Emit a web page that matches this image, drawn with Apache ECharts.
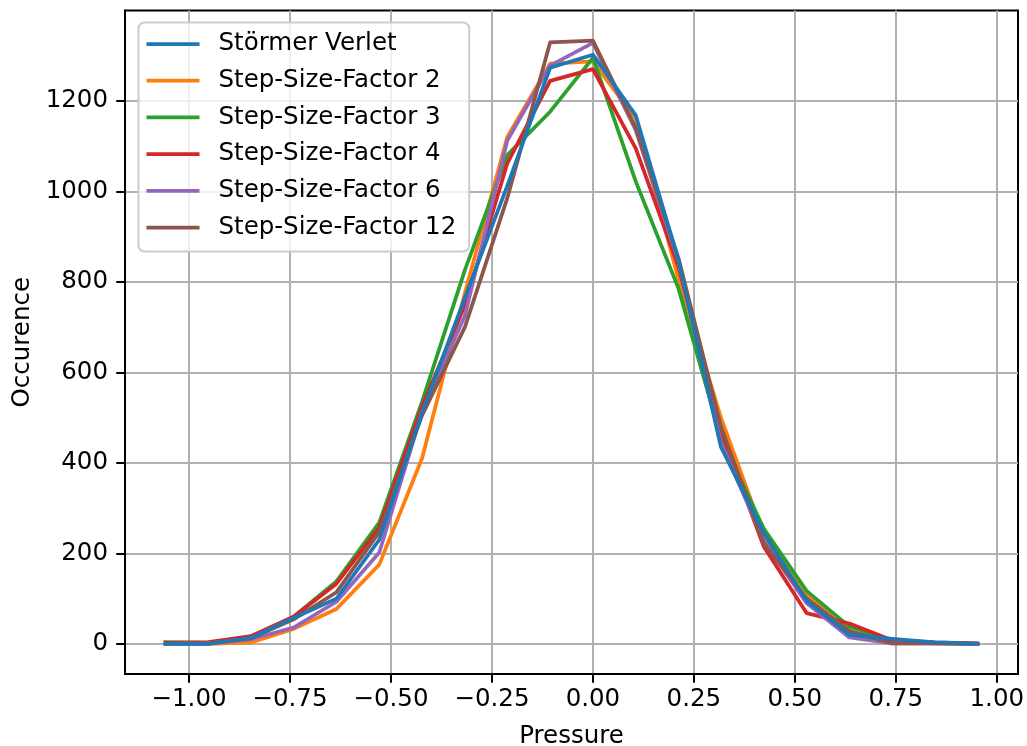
<!DOCTYPE html>
<html>
<head>
<meta charset="utf-8">
<title>Pressure distribution</title>
<script src="https://cdn.jsdelivr.net/npm/echarts@6/dist/echarts.min.js"></script>
<style>
  html, body { margin: 0; padding: 0; background: #ffffff; }
  #chart { width: 1027px; height: 746px; }
</style>
</head>
<body>
<div id="chart"></div>
<script>
// Histogram bin centres (pressure)
const pressure = [-1.058, -0.952, -0.847, -0.741, -0.635, -0.529, -0.423, -0.317, -0.212, -0.106,
                  0.000, 0.106, 0.212, 0.317, 0.423, 0.529, 0.635, 0.741, 0.847, 0.952];

// Occurrence counts per integrator
const stoermerVerlet = [0, 0, 13, 57, 100, 230, 510, 765, 1012, 1273, 1302, 1168, 847, 435, 245, 95, 20, 11, 3, 0];
const stepFactor2    = [0, 0, 3, 33, 77, 175, 410, 775, 1120, 1282, 1287, 1160, 805, 500, 240, 108, 28, 3, 1, 0];
const stepFactor3    = [4, 2, 15, 60, 138, 268, 535, 826, 1080, 1176, 1295, 1022, 785, 455, 255, 117, 38, 8, 2, 0];
const stepFactor4    = [2, 4, 17, 60, 133, 257, 525, 748, 1062, 1244, 1270, 1095, 833, 470, 215, 68, 45, 8, 3, 1];
const stepFactor6    = [0, 1, 10, 36, 93, 202, 512, 725, 1112, 1278, 1328, 1135, 845, 445, 228, 90, 14, 1, 1, 0];
const stepFactor12   = [0, 1, 12, 54, 114, 247, 505, 700, 985, 1329, 1333, 1140, 852, 480, 222, 100, 28, 1, 1, 0];

const seriesNames = ['Störmer Verlet', 'Step-Size-Factor 2', 'Step-Size-Factor 3',
                     'Step-Size-Factor 4', 'Step-Size-Factor 6', 'Step-Size-Factor 12'];
const seriesValues = [stoermerVerlet, stepFactor2, stepFactor3, stepFactor4, stepFactor6, stepFactor12];
const seriesColors = ['#1f77b4', '#ff7f0e', '#2ca02c', '#d62728', '#9467bd', '#8c564b'];
const seriesZ = [10, 3, 4, 5, 6, 7];

// Tick positions
const xTicks = [-1.00, -0.75, -0.50, -0.25, 0.00, 0.25, 0.50, 0.75, 1.00];
const yTicks = [0, 200, 400, 600, 800, 1000, 1200];

// Axis extents with 5% padding around the data
const xLo = Math.min(...pressure), xHi = Math.max(...pressure);
const xPad = (xHi - xLo) * 0.05;
const allY = seriesValues.flat();
const yLo = Math.min(...allY), yHi = Math.max(...allY);
const yPad = (yHi - yLo) * 0.05;

const FONT = 'DejaVu Sans';
const FS = 24.5;

const chart = echarts.init(document.getElementById('chart'), null, { renderer: 'canvas' });

const series = seriesNames.map((name, i) => ({
  name: name,
  type: 'line',
  data: pressure.map((p, j) => [p, seriesValues[i][j]]),
  showSymbol: false,
  symbol: 'none',
  z: seriesZ[i],
  lineStyle: { color: seriesColors[i], width: 3.75, cap: 'square', join: 'round' },
  itemStyle: { color: seriesColors[i] },
  emphasis: { disabled: true }
}));

const fmt = v => {
  const s = Math.abs(v).toFixed(2);
  return v < -1e-9 ? '\u2212' + s : s;
};

chart.setOption({
  animation: false,
  backgroundColor: '#ffffff',
  textStyle: { fontFamily: FONT },
  grid: {
    left: 125, right: 9, top: 10.5, bottom: 72,
    outerBoundsMode: 'none',
    containLabel: false,
    show: true, borderColor: '#000000', borderWidth: 2, backgroundColor: 'transparent'
  },
  legend: {
    orient: 'vertical',
    left: 138.5, top: 22.5,
    padding: [7.5, 13, 10, 8],
    itemWidth: 53, itemHeight: 3.75, itemGap: 8.7,
    icon: 'rect',
    backgroundColor: 'rgba(255,255,255,0.8)',
    borderColor: '#cccccc', borderWidth: 2, borderRadius: 6,
    textStyle: { fontFamily: FONT, fontSize: FS, color: '#000000', lineHeight: 28, padding: [0, 0, 0, 14] },
    data: seriesNames,
    selectedMode: false
  },
  xAxis: {
    type: 'value',
    min: xLo - xPad, max: xHi + xPad,
    name: 'Pressure', nameLocation: 'middle', nameGap: 50,
    nameTextStyle: { fontFamily: FONT, fontSize: FS, color: '#000000' },
    axisLine: { show: true, onZero: false, lineStyle: { color: '#000000', width: 2 } },
    axisTick: { show: true, inside: false, length: 8.75, customValues: xTicks, lineStyle: { color: '#000000', width: 2 } },
    axisLabel: { show: true, customValues: xTicks, formatter: fmt, fontFamily: FONT, fontSize: FS, color: '#000000', margin: 13 },
    splitLine: { show: true, lineStyle: { color: '#b0b0b0', width: 2 } }
  },
  yAxis: {
    type: 'value',
    min: yLo - yPad, max: yHi + yPad,
    name: 'Occurence', nameLocation: 'middle', nameGap: 88, nameRotate: 90,
    nameTextStyle: { fontFamily: FONT, fontSize: FS, color: '#000000' },
    axisLine: { show: true, onZero: false, lineStyle: { color: '#000000', width: 2 } },
    axisTick: { show: true, inside: false, length: 8.75, customValues: yTicks, lineStyle: { color: '#000000', width: 2 } },
    axisLabel: { show: true, customValues: yTicks, formatter: v => String(Math.round(v)), fontFamily: FONT, fontSize: FS, color: '#000000', margin: 17 },
    splitLine: { show: true, lineStyle: { color: '#b0b0b0', width: 2 } }
  },
  series: series
});
</script>
</body>
</html>
